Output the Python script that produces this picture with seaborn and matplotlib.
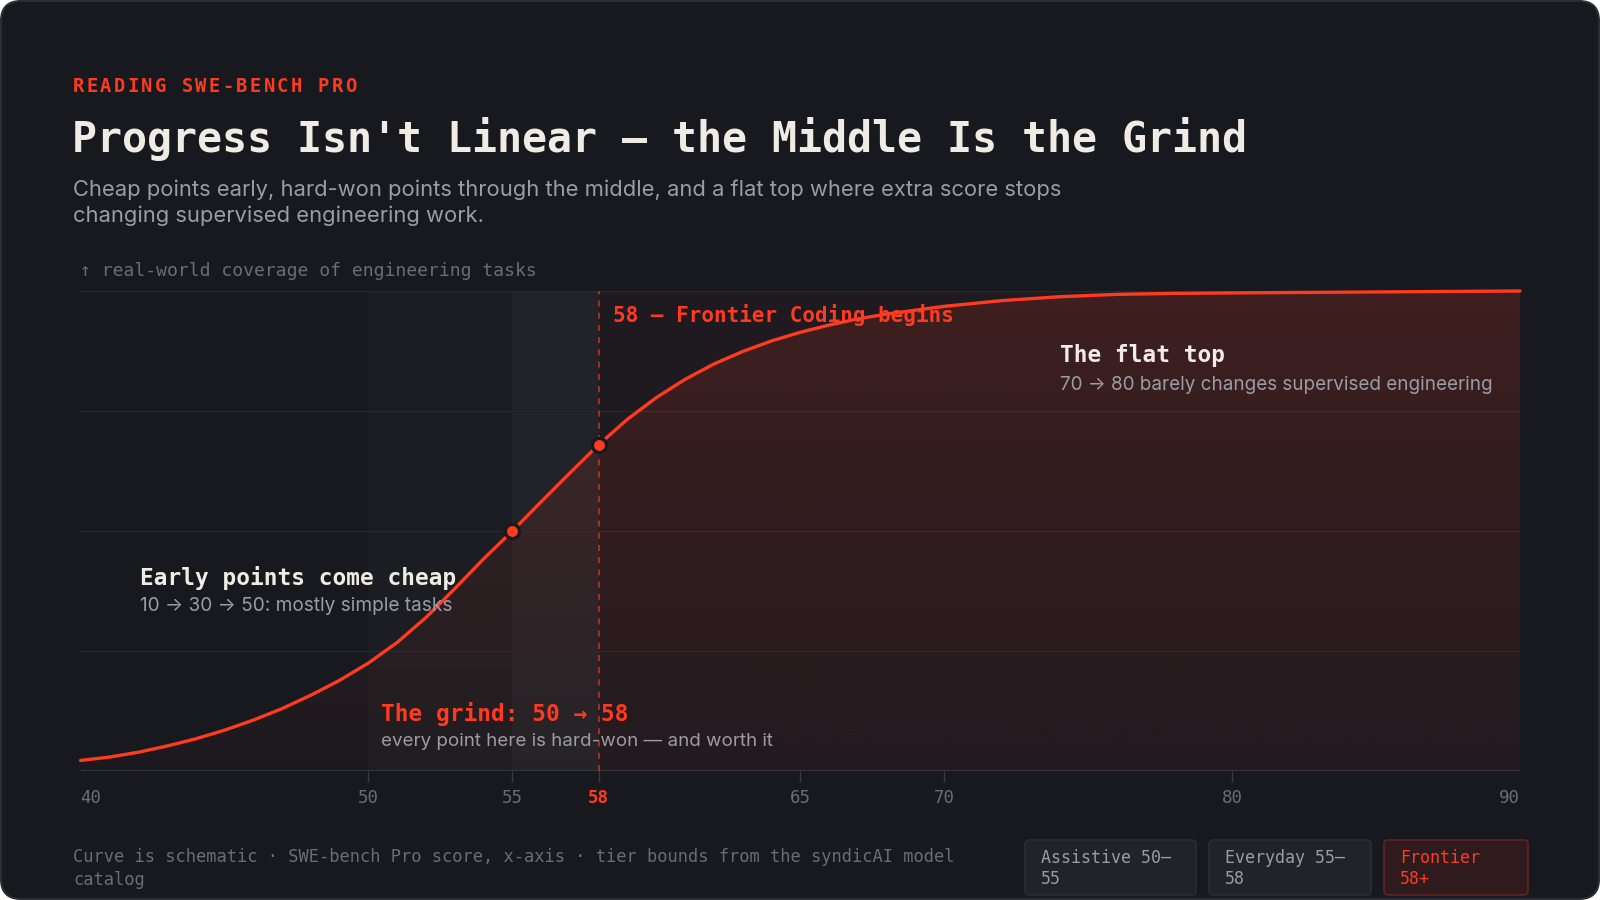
import numpy as np
import matplotlib
matplotlib.use("Agg")
import matplotlib.pyplot as plt
import seaborn as sns
from matplotlib.patches import FancyBboxPatch, PathPatch
from matplotlib.transforms import IdentityTransform
from matplotlib.colors import to_rgb

# schematic curve: SWE-bench Pro score -> coverage
score = [40, 41, 42, 43, 44, 45, 46, 47, 48, 49, 50, 51, 52, 53, 54, 55, 56, 57, 58,
         59, 60, 61, 62, 63, 64, 65, 66, 67, 68, 69, 70, 72, 74, 76, 78, 80, 85, 90]
coverage = [2.2, 2.9, 3.9, 5.2, 6.7, 8.5, 10.6, 13.0, 15.8, 18.9, 22.5, 26.8, 32.0,
            38.0, 44.2, 50, 56.1, 62.1, 68, 73.3, 77.8, 81.6, 84.8, 87.4, 89.6, 91.4,
            92.9, 94.2, 95.2, 96.0, 96.8, 98.0, 98.8, 99.3, 99.5, 99.6, 99.8, 100]

# highlighted points
marker_score = [55, 58]
marker_cov = [50, 68]

ticks = [40, 50, 55, 58, 65, 70, 80, 90]
tick_labels = ["40", "50", "55", "58", "65", "70", "80", "90"]

# tiers
tier_labels = ["Assistive 50–\n55", "Everyday 55–\n58", "Frontier\n58+"]
tier_start = [50, 55, 58]
tier_end = [55, 58, 90]

BG = "#18191e"
RED = "#ff3b1f"
INK = "#f0ece4"
MUTED = "#9a9ca6"
DIM = "#6b6d75"
GRID = "#27282d"
MONO = ["DejaVu Sans Mono", "DejaVu Sans"]
SANS = ["Inter", "DejaVu Sans"]

sns.set_theme(style="dark")
plt.rcParams["font.family"] = MONO

W, H = 1600, 900
fig = plt.figure(figsize=(16, 9), dpi=100, facecolor="white")


def fx(px):
    return px / W


def fy(py):
    return 1 - py / H


# card background
card = FancyBboxPatch((1, 1), W - 2, H - 2, boxstyle="round,pad=0,rounding_size=20",
                      transform=IdentityTransform(), facecolor=BG, edgecolor="#2c2d33",
                      linewidth=1.5, zorder=-5)
fig.patches.append(card)

# plot area
ax = fig.add_axes([fx(80.6), fy(771), fx(1520) - fx(80.6), fy(291) - fy(771)])
ax.set_facecolor(BG)
for s in ax.spines.values():
    s.set_visible(False)

# tier bands
band_colors = ["#1c1d22", "#222328", "#1e1a1f"]
for x0, x1, c in zip(tier_start, tier_end, band_colors):
    ax.axvspan(x0, x1, color=c, lw=0, zorder=0)

for yv in [25, 50, 75, 100]:
    ax.axhline(yv, color=GRID, lw=1, zorder=1)
ax.axhline(0, color="#3a3b42", lw=1.2, zorder=2)

# gradient fill under the curve
poly = ax.fill_between(score, coverage, 0, color="none", lw=0)
clip = PathPatch(poly.get_paths()[0], transform=ax.transData, facecolor="none", edgecolor="none")
ax.add_patch(clip)
grad = np.zeros((256, 1, 4))
grad[..., :3] = to_rgb(RED)
grad[:, 0, 3] = np.linspace(0.02, 0.15, 256)
im = ax.imshow(grad, extent=[40, 90, 0, 100], origin="lower", aspect="auto", zorder=2)
im.set_clip_path(clip)

# frontier marker line
ax.axvline(58, color="#c8351f", lw=1.1, ls=(0, (4, 4)), zorder=3)

sns.lineplot(x=score, y=coverage, ax=ax, color=RED, lw=2.4, sort=False,
             estimator=None, zorder=5, clip_on=False, solid_capstyle="round",
             solid_joinstyle="round")
sns.scatterplot(x=marker_score, y=marker_cov, ax=ax, color=RED, s=105,
                edgecolor=BG, linewidth=2.4, zorder=6, clip_on=False)

ax.set_xlim(40, 90)
ax.set_ylim(0, 100)
ax.set_yticks([])
ax.set_xticks(ticks, tick_labels)
ax.tick_params(axis="x", length=8, width=1, color="#3a3b42", pad=5,
               labelsize=12.5, labelcolor=DIM, bottom=True)
ax.grid(False)
for t, lab, line in zip(ticks, ax.get_xticklabels(), ax.get_xticklines()[::2]):
    lab.set_fontfamily(MONO)
    if t == 40:
        lab.set_ha("left")
        line.set_visible(False)
    elif t == 90:
        lab.set_ha("right")
        line.set_visible(False)
    if t == 58:
        lab.set_color(RED)
        lab.set_fontweight("bold")
        line.set_color("#c8351f")

# header
for i, ch in enumerate("READING SWE-BENCH PRO"):
    fig.text(fx(73 + i * 13.6), fy(86.5), ch, color=RED, fontsize=13.5,
             fontweight="bold", va="center", ha="left", family=MONO)
fig.text(fx(72), fy(139), "Progress Isn't Linear — the Middle Is the Grind", color=INK,
         fontsize=30, fontweight="bold", va="center", ha="left", family=MONO)
fig.text(fx(73), fy(190), "Cheap points early, hard-won points through the middle, and a flat top where extra score stops",
         color=MUTED, fontsize=15.8, va="center", ha="left", family=SANS)
fig.text(fx(73), fy(215.5), "changing supervised engineering work.",
         color=MUTED, fontsize=15.8, va="center", ha="left", family=SANS)
fig.text(fx(80), fy(271), "↑ real-world coverage of engineering tasks", color=DIM,
         fontsize=13, va="center", ha="left", family=MONO)

# annotations
fig.text(fx(613), fy(315.5), "58 — Frontier Coding begins", color=RED, fontsize=15,
         fontweight="bold", va="center", ha="left", family=MONO)
fig.text(fx(1060), fy(355.5), "The flat top", color=INK, fontsize=16.4,
         fontweight="bold", va="center", ha="left", family=MONO)
fig.text(fx(1060), fy(385), "70 → 80 barely changes supervised engineering", color=MUTED,
         fontsize=13.6, va="center", ha="left", family=SANS)
fig.text(fx(140), fy(606), "10 → 30 → 50: mostly simple tasks", color=MUTED,
         fontsize=13.7, va="center", ha="left", family=SANS)
fig.text(fx(140), fy(578), "Early points come cheap", color=INK, fontsize=16.4,
         fontweight="bold", va="center", ha="left", family=MONO)
fig.text(fx(380.6), fy(713.5), "The grind: 50 → 58", color=RED, fontsize=16.4,
         fontweight="bold", va="center", ha="left", family=MONO)
fig.text(fx(380.6), fy(742), "every point here is hard-won — and worth it", color=MUTED,
         fontsize=13.5, va="center", ha="left", family=SANS)

# footer
fig.text(fx(73), fy(857), "Curve is schematic · SWE-bench Pro score, x-axis · tier bounds from the syndicAI model",
         color=DIM, fontsize=12.25, va="center", ha="left", family=MONO)
fig.text(fx(73), fy(880), "catalog", color=DIM, fontsize=12.25, va="center", ha="left", family=MONO)

# tier legend boxes
box_x = [(1025, 1196), (1209, 1371), (1384, 1528)]
box_face = ["#222328", "#222328", "#2f1b1d"]
box_edge = ["#2e2f35", "#2e2f35", "#6b2420"]
box_text = [MUTED, MUTED, RED]
for (x0, x1), label, fc, ec, tc in zip(box_x, tier_labels, box_face, box_edge, box_text):
    fig.patches.append(FancyBboxPatch((x0, H - 895), x1 - x0, 55,
                                      boxstyle="round,pad=0,rounding_size=4",
                                      transform=IdentityTransform(), facecolor=fc,
                                      edgecolor=ec, linewidth=1, zorder=1))
    top, bottom = label.split("\n")
    fig.text(fx(x0 + 16), fy(858), top, color=tc, fontsize=12, va="center", ha="left", family=MONO)
    fig.text(fx(x0 + 16), fy(879), bottom, color=tc, fontsize=12, va="center", ha="left", family=MONO)

fig.savefig("out.png", dpi=100, facecolor=fig.get_facecolor())
